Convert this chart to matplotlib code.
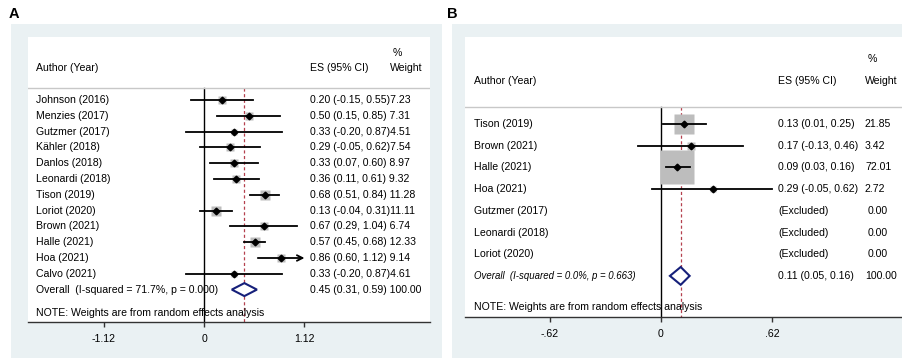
import matplotlib.pyplot as plt
from matplotlib.patches import Rectangle, Polygon

plt.rcParams['font.family'] = ['Liberation Sans', 'DejaVu Sans']

# ---- panel A data ----
a_names = ['Johnson (2016)', 'Menzies (2017)', 'Gutzmer (2017)', 'Kähler (2018)',
           'Danlos (2018)', 'Leonardi (2018)', 'Tison (2019)', 'Loriot (2020)',
           'Brown (2021)', 'Halle (2021)', 'Hoa (2021)', 'Calvo (2021)']
a_es = [0.20, 0.50, 0.33, 0.29, 0.33, 0.36, 0.68, 0.13, 0.67, 0.57, 0.86, 0.33]
a_lo = [-0.15, 0.15, -0.20, -0.05, 0.07, 0.11, 0.51, -0.04, 0.29, 0.45, 0.60, -0.20]
a_hi = [0.55, 0.85, 0.87, 0.62, 0.60, 0.61, 0.84, 0.31, 1.04, 0.68, 1.12, 0.87]
a_w = [7.23, 7.31, 4.51, 7.54, 8.97, 9.32, 11.28, 11.11, 6.74, 12.33, 9.14, 4.61]
a_overall = (0.45, 0.31, 0.59)
a_overall_txt = 'Overall  (I-squared = 71.7%, p = 0.000)'
a_ticks = [-1.12, 0, 1.12]
a_ticklabels = ['-1.12', '0', '1.12']

# ---- panel B data ----
b_names = ['Tison (2019)', 'Brown (2021)', 'Halle (2021)', 'Hoa (2021)',
           'Gutzmer (2017)', 'Leonardi (2018)', 'Loriot (2020)']
b_es = [0.13, 0.17, 0.09, 0.29, None, None, None]
b_lo = [0.01, -0.13, 0.03, -0.05, None, None, None]
b_hi = [0.25, 0.46, 0.16, 0.62, None, None, None]
b_w = [21.85, 3.42, 72.01, 2.72, 0.00, 0.00, 0.00]
b_overall = (0.11, 0.05, 0.16)
b_overall_txt = 'Overall  (I-squared = 0.0%, p = 0.663)'
b_ticks = [-0.62, 0, 0.62]
b_ticklabels = ['-.62', '0', '.62']

W, H = 903, 358
BG = '#eaf1f3'
fig = plt.figure(figsize=(W / 100, H / 100), dpi=100)
fig.patch.set_facecolor('white')


def px_axes(x0, y0, x1, y1):
    return fig.add_axes([x0 / W, 1 - y1 / H, (x1 - x0) / W, (y1 - y0) / H])


def forest(box, zero_px, ppu, row0_px, row_px, names, es, lo, hi, w, ov, ov_txt,
           ticks, ticklabels, k, cols, concat, ov_style):
    x0, y0, x1, y1 = box
    ax = px_axes(x0, y0, x1, y1)
    ax.set_facecolor('white')
    ax.set_xlim((x0 - zero_px) / ppu, (x1 - zero_px) / ppu)
    ax.set_ylim((y1 - row0_px) / row_px, (y0 - row0_px) / row_px)
    xmax = (x1 - zero_px) / ppu
    n = len(names)
    sep = -0.77
    bottom = (y1 - row0_px) / row_px
    # vertical lines
    ax.plot([0, 0], [sep, bottom], color='black', lw=1.0, zorder=2)
    ax.plot([ov[0], ov[0]], [sep, bottom], color='#b5404e', lw=0.9,
            ls=(0, (2.5, 2)), zorder=2)
    ax.plot([(x0 - zero_px) / ppu, xmax], [sep, sep], color='#c8c8c8', lw=1.0)
    for i in range(n):
        if es[i] is None:
            continue
        side = k * w[i] ** 0.5 * 0.72
        ax.plot(es[i], i, marker='s', ms=side, color='#bdbdbd', mec='none', zorder=3)
        if hi[i] >= ticks[-1] and concat:
            ax.annotate('', xy=(hi[i], i), xytext=(lo[i], i),
                        arrowprops=dict(arrowstyle='->', lw=1.3, color='black',
                                        shrinkA=0, shrinkB=0), zorder=4)
        else:
            ax.plot([lo[i], hi[i]], [i, i], color='black', lw=1.3, zorder=4)
        ax.plot(es[i], i, marker='D', ms=3.4, color='black', zorder=5)
    # overall diamond
    yo = n
    h = 0.41
    ax.add_patch(Polygon([(ov[1], yo), (ov[0], yo - h), (ov[2], yo), (ov[0], yo + h)],
                         closed=True, fc='white', ec='#16207a', lw=1.5, zorder=5))
    fs = 7.6
    tr = ax.get_yaxis_transform()
    tx = lambda p: (p - x0) / (x1 - x0)
    c_auth, c_es, c_w = cols
    ax.text(tx(c_w + 3), -3.0, '%', transform=tr, fontsize=fs, va='center')
    ax.text(tx(c_auth), -2.0, 'Author (Year)', transform=tr, fontsize=fs, va='center')
    ax.text(tx(c_es), -2.0, 'ES (95% CI)', transform=tr, fontsize=fs, va='center')
    ax.text(tx(c_w), -2.0, 'Weight', transform=tr, fontsize=fs, va='center')
    for i in range(n):
        ax.text(tx(c_auth), i, names[i], transform=tr, fontsize=fs, va='center')
        if es[i] is None:
            ax.text(tx(c_es), i, '(Excluded)', transform=tr, fontsize=fs, va='center')
            ax.text(tx(c_w + 3), i, '%.2f' % w[i], transform=tr, fontsize=fs, va='center')
            continue
        ci = '%.2f (%.2f, %.2f)' % (es[i], lo[i], hi[i])
        if concat:
            gap = '' if lo[i] < 0 else ' '
            ax.text(tx(c_es), i, ci + gap + '%.2f' % w[i], transform=tr,
                    fontsize=fs, va='center')
        else:
            ax.text(tx(c_es), i, ci, transform=tr, fontsize=fs, va='center')
            ax.text(tx(c_w), i, '%.2f' % w[i], transform=tr, fontsize=fs, va='center')
    if ov_style == 'italic':
        ax.text(tx(c_auth), yo, ov_txt, transform=tr, fontsize=6.9, style='italic',
                va='center')
        ax.text(tx(c_es), yo, '%.2f (%.2f, %.2f)' % ov, transform=tr, fontsize=fs,
                va='center')
        ax.text(tx(c_w), yo, '100.00', transform=tr, fontsize=fs, va='center')
    else:
        ax.text(tx(c_auth), yo, ov_txt, transform=tr, fontsize=fs, va='center')
        ax.text(tx(c_es), yo, '%.2f (%.2f, %.2f) 100.00' % ov, transform=tr,
                fontsize=fs, va='center')
    ax.text(tx(c_auth), yo + (1.45 if concat else 1.43), 'NOTE: Weights are from random effects analysis',
            transform=tr, fontsize=fs, va='center')
    for s in ['top', 'left', 'right']:
        ax.spines[s].set_visible(False)
    ax.spines['bottom'].set_color('#333333')
    ax.spines['bottom'].set_linewidth(1.0)
    ax.set_yticks([])
    ax.set_xticks(ticks)
    ax.set_xticklabels(ticklabels, fontsize=fs)
    ax.tick_params(axis='x', length=3.5, width=1.0, pad=5, color='#333333')
    return ax


# outer backgrounds
fig.patches.append(Rectangle((11 / W, 0), (442 - 11) / W, (H - 24) / H,
                             transform=fig.transFigure, fc=BG, ec='none', zorder=-10))
fig.patches.append(Rectangle((452 / W, 0), (W - 452) / W, (H - 24) / H,
                             transform=fig.transFigure, fc=BG, ec='none', zorder=-10))

forest((28, 37, 430, 322), 204, 89.7, 100, 15.8, a_names, a_es, a_lo, a_hi, a_w,
       a_overall, a_overall_txt, a_ticks, a_ticklabels, 2.9, (36, 310, 390), True, 'normal')
forest((465, 37, 903, 317), 661, 179.0, 124, 21.7, b_names, b_es, b_lo, b_hi, b_w,
       b_overall, b_overall_txt, b_ticks, b_ticklabels, 4.1, (474, 778, 865), False, 'italic')

fig.text(9 / W, 1 - 14 / H, 'A', fontsize=10.5, fontweight='bold', va='center')
fig.text(447 / W, 1 - 14 / H, 'B', fontsize=10.5, fontweight='bold', va='center')

fig.savefig('out.png', dpi=100, facecolor='white')
